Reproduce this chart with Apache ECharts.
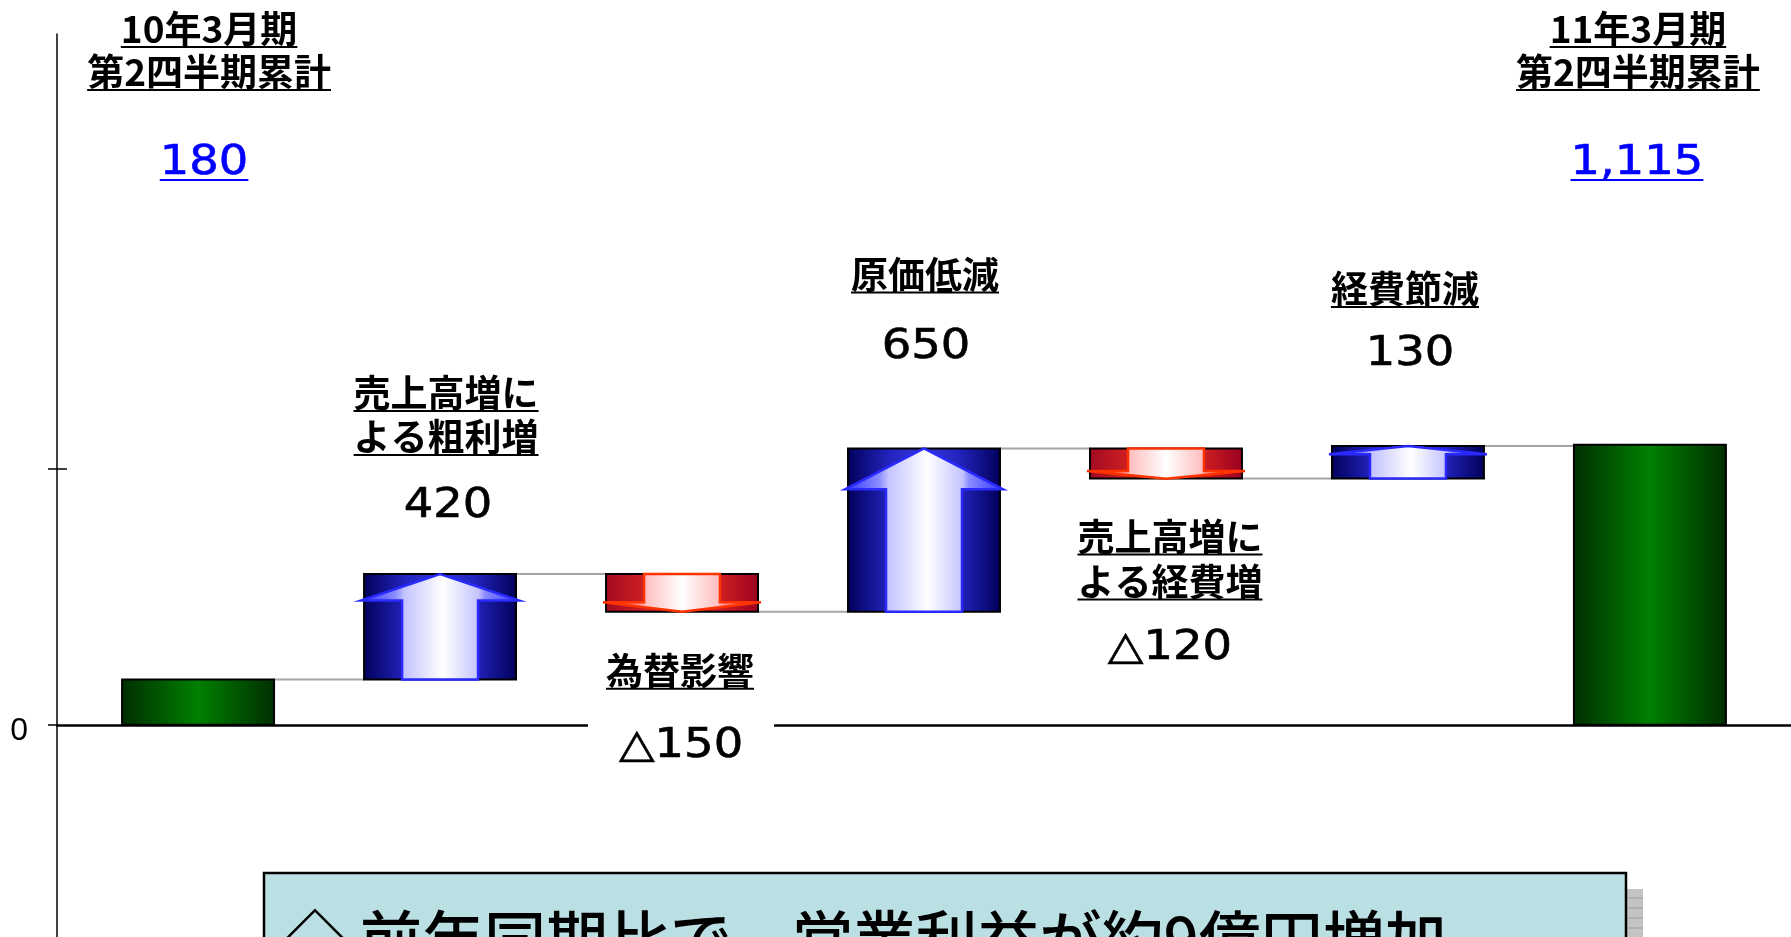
<!DOCTYPE html>
<html>
<head>
<meta charset="utf-8">
<script src="https://cdn.jsdelivr.net/npm/echarts@6/dist/echarts.min.js"></script>
<style>
html,body{margin:0;padding:0;background:#fff;}
#chart{width:1791px;height:937px;}
</style>
</head>
<body>
<div id="chart"></div>
<script>
// ---------- data ----------
const titleLines = [
  ['10年3月期', '第2四半期累計'],
  ['売上高増に', 'よる粗利増'],
  ['為替影響'],
  ['原価低減'],
  ['売上高増に', 'よる経費増'],
  ['経費節減'],
  ['11年3月期', '第2四半期累計']
];
const changes = [180, 420, -150, 650, -120, 130, 1115];
const kinds = ['total', 'up', 'down', 'up', 'down', 'up', 'total'];
const summaryText = '◇ 前年同期比で、営業利益が約9億円増加';
const yTickValues = [0, 1020];
const yLabelValues = [0];

// ---------- layout (pixel offsets, not data) ----------
const yMin = -1000, yMax = 2750;
const labelLayout = [
  { anchor: 'axisTop', dx: 11, vdx: 6,   lines: [-5, 38],     value: 130 },
  { anchor: 'top',     dx: 6,  vdx: 8,   lines: [-181, -137], value: -67 },
  { anchor: 'bottom',  dx: -2, vdx: -1,  lines: [59],         value: 135, knockout: true },
  { anchor: 'top',     dx: 1,  vdx: 2,   lines: [-174],       value: -101 },
  { anchor: 'bottom',  dx: 4,  vdx: 4,   lines: [58, 103],    value: 170 },
  { anchor: 'top',     dx: -3, vdx: 2,   lines: [-157],       value: -91 },
  { anchor: 'axisTop', dx: -12, vdx: -13, lines: [-5, 38],    value: 130 }
];

// ---------- derived series data ----------
const seriesData = [];
let level = 0;
changes.forEach((v, i) => {
  let lo, hi, end;
  if (kinds[i] === 'total') { lo = 0; hi = v; end = v; }
  else { end = level + v; lo = Math.min(level, end); hi = Math.max(level, end); }
  level = end;
  seriesData.push([i, lo, hi, end]);
});

function fmt(v, kind) {
  if (kind === 'total') return v.toLocaleString('en-US');
  if (v < 0) return '△' + Math.abs(v);
  return String(v);
}

const mctx = document.createElement('canvas').getContext('2d');
function textWidth(text, font) { mctx.font = font; return mctx.measureText(text).width; }

const G = echarts.graphic;
const titleFont = 'bold 37px "Noto Sans CJK JP"';
const numFont = '40px "DejaVu Sans"';
const numScale = 1.16;
const barRatio = 0.628;

const bgGrad = {
  total: [[0, '#002e00'], [0.5, '#008000'], [1, '#002e00']],
  up: [[0, '#00005a'], [0.28, '#2424c0'], [0.5, '#3535d5'], [0.72, '#2424c0'], [1, '#00005a']],
  down: [[0, '#a00a22'], [0.28, '#d42222'], [0.72, '#d42222'], [1, '#9a0020']]
};
const arrowGrad = {
  up: [[0, '#3030ff'], [0.22, '#8c8cff'], [0.28, '#c4c4ff'], [0.52, '#ffffff'], [0.74, '#c4c4ff'], [0.78, '#8c8cff'], [1, '#3030ff']],
  down: [[0, '#ff2200'], [0.22, '#ff8080'], [0.28, '#ffc0c0'], [0.5, '#ffffff'], [0.72, '#ffc0c0'], [0.78, '#ff8080'], [1, '#ff2200']]
};
function lg(stops) {
  return new G.LinearGradient(0, 0, 1, 0, stops.map(s => ({ offset: s[0], color: s[1] })));
}

function renderItem(params, api) {
  const i = params.dataIndex;
  const x = api.value(0), lo = api.value(1), hi = api.value(2), end = api.value(3);
  const kind = kinds[i];
  const pTop = api.coord([x, hi]);
  const pBot = api.coord([x, lo]);
  const w = api.size([barRatio, 0])[0];
  const cx = pTop[0];
  const left = cx - w / 2, right = cx + w / 2;
  const top = pTop[1], bottom = pBot[1], h = bottom - top;
  const children = [];

  if (i < changes.length - 1) {
    const pe = api.coord([x, end]);
    const pn = api.coord([x + 1, end]);
    children.push({
      type: 'line',
      shape: { x1: right, y1: pe[1], x2: pn[0] - w / 2, y2: pe[1] },
      style: { stroke: '#a6a6a6', lineWidth: 2 }
    });
  }

  children.push({
    type: 'rect',
    shape: { x: left, y: top, width: w, height: h },
    style: { fill: lg(bgGrad[kind]), stroke: '#000', lineWidth: 2 }
  });

  if (kind !== 'total') {
    const hh = h * 0.25, sw = w * 0.25, ov = 3;
    let pts;
    if (kind === 'up') {
      pts = [[cx, top], [right + ov, top + hh], [cx + sw, top + hh], [cx + sw, bottom], [cx - sw, bottom], [cx - sw, top + hh], [left - ov, top + hh]];
    } else {
      pts = [[cx - sw, top], [cx + sw, top], [cx + sw, bottom - hh], [right + ov, bottom - hh], [cx, bottom], [left - ov, bottom - hh], [cx - sw, bottom - hh]];
    }
    children.push({
      type: 'polygon',
      shape: { points: pts },
      style: { fill: lg(arrowGrad[kind]), stroke: kind === 'up' ? '#2a2aff' : '#ff3300', lineWidth: 2.5, lineJoin: 'miter' }
    });
  }

  const L = labelLayout[i];
  let anchorY;
  if (L.anchor === 'axisTop') anchorY = api.coord([x, yMax])[1];
  else if (L.anchor === 'top') anchorY = top;
  else anchorY = bottom;

  titleLines[i].forEach((t, k) => {
    const ty = anchorY + L.lines[k];
    const tx = cx + L.dx;
    const tw = textWidth(t, titleFont);
    children.push({
      type: 'text', x: tx, y: ty,
      style: { text: t, font: titleFont, fill: '#000', align: 'center', verticalAlign: 'middle' }
    });
    children.push({
      type: 'line',
      shape: { x1: tx - tw / 2, y1: ty + 18, x2: tx + tw / 2, y2: ty + 18 },
      style: { stroke: '#000', lineWidth: 2 }
    });
  });

  const vText = fmt(changes[i], kind);
  const vx = cx + L.vdx, vy = anchorY + L.value;
  const isTotal = kind === 'total';
  const vColor = isTotal ? '#0000ff' : '#000';
  if (L.knockout) {
    children.push({
      type: 'rect',
      shape: { x: vx - 93, y: vy - 29, width: 186, height: 50 },
      style: { fill: '#fff' }
    });
  }
  children.push({
    type: 'text', x: vx, y: vy, scaleX: numScale,
    style: { text: vText, font: numFont, fill: vColor, align: 'center', verticalAlign: 'middle', stroke: vColor, lineWidth: 0.6 }
  });
  if (isTotal) {
    const vw = textWidth(vText, numFont) * numScale;
    children.push({
      type: 'line',
      shape: { x1: vx - vw / 2, y1: vy + 16, x2: vx + vw / 2, y2: vy + 16 },
      style: { stroke: '#0000ff', lineWidth: 2 }
    });
  }

  return { type: 'group', children };
}

const chart = echarts.init(document.getElementById('chart'));
chart.setOption({
  animation: false,
  backgroundColor: '#fff',
  grid: { left: 57, right: 0, top: 34, height: 942, outerBoundsMode: 'none', containLabel: false },
  xAxis: {
    type: 'value', min: -0.583, max: 6.583,
    axisLine: { show: true, onZero: true, lineStyle: { color: '#000', width: 2.5 } },
    axisTick: { show: false }, axisLabel: { show: false }, splitLine: { show: false }
  },
  yAxis: [
    {
      type: 'value', min: yMin, max: yMax, position: 'left',
      axisLine: { show: true, onZero: false, lineStyle: { color: '#000', width: 1.5 } },
      axisTick: { show: true, length: 9, customValues: yTickValues, lineStyle: { color: '#000', width: 1.5 } },
      axisLabel: { show: true, customValues: yLabelValues, margin: 29, color: '#000', fontSize: 32, fontFamily: 'Liberation Sans', verticalAlign: 'top', lineHeight: 12 },
      splitLine: { show: false }
    },
    {
      type: 'value', min: yMin, max: yMax, position: 'left',
      axisLine: { show: false, onZero: false },
      axisTick: { show: true, inside: true, length: 10, customValues: [yTickValues[1]], lineStyle: { color: '#000', width: 1.5 } },
      axisLabel: { show: false }, splitLine: { show: false }
    }
  ],
  series: [{
    type: 'custom',
    clip: false,
    renderItem: renderItem,
    encode: { x: 0, y: [1, 2] },
    data: seriesData
  }],
  graphic: [
    { type: 'rect', z: 10, shape: { x: 1627, y: 889, width: 16, height: 60 }, style: { fill: '#c4c4c4' } },
    { type: 'line', z: 11, shape: { x1: 1627, y1: 898, x2: 1643, y2: 898 }, style: { stroke: '#9a9a9a', lineWidth: 1 } },
    { type: 'line', z: 11, shape: { x1: 1627, y1: 908, x2: 1643, y2: 908 }, style: { stroke: '#9a9a9a', lineWidth: 1 } },
    { type: 'line', z: 11, shape: { x1: 1627, y1: 918, x2: 1643, y2: 918 }, style: { stroke: '#9a9a9a', lineWidth: 1 } },
    { type: 'line', z: 11, shape: { x1: 1627, y1: 928, x2: 1643, y2: 928 }, style: { stroke: '#9a9a9a', lineWidth: 1 } },
    { type: 'rect', z: 12, shape: { x: 264, y: 873, width: 1362, height: 100 }, style: { fill: '#bbe0e3', stroke: '#000', lineWidth: 2.5 } },
    { type: 'text', z: 13, x: 284, y: 908, style: { text: summaryText, font: '500 62px "Noto Sans CJK JP"', fill: '#000', align: 'left', verticalAlign: 'top' } }
  ]
});
</script>
</body>
</html>
